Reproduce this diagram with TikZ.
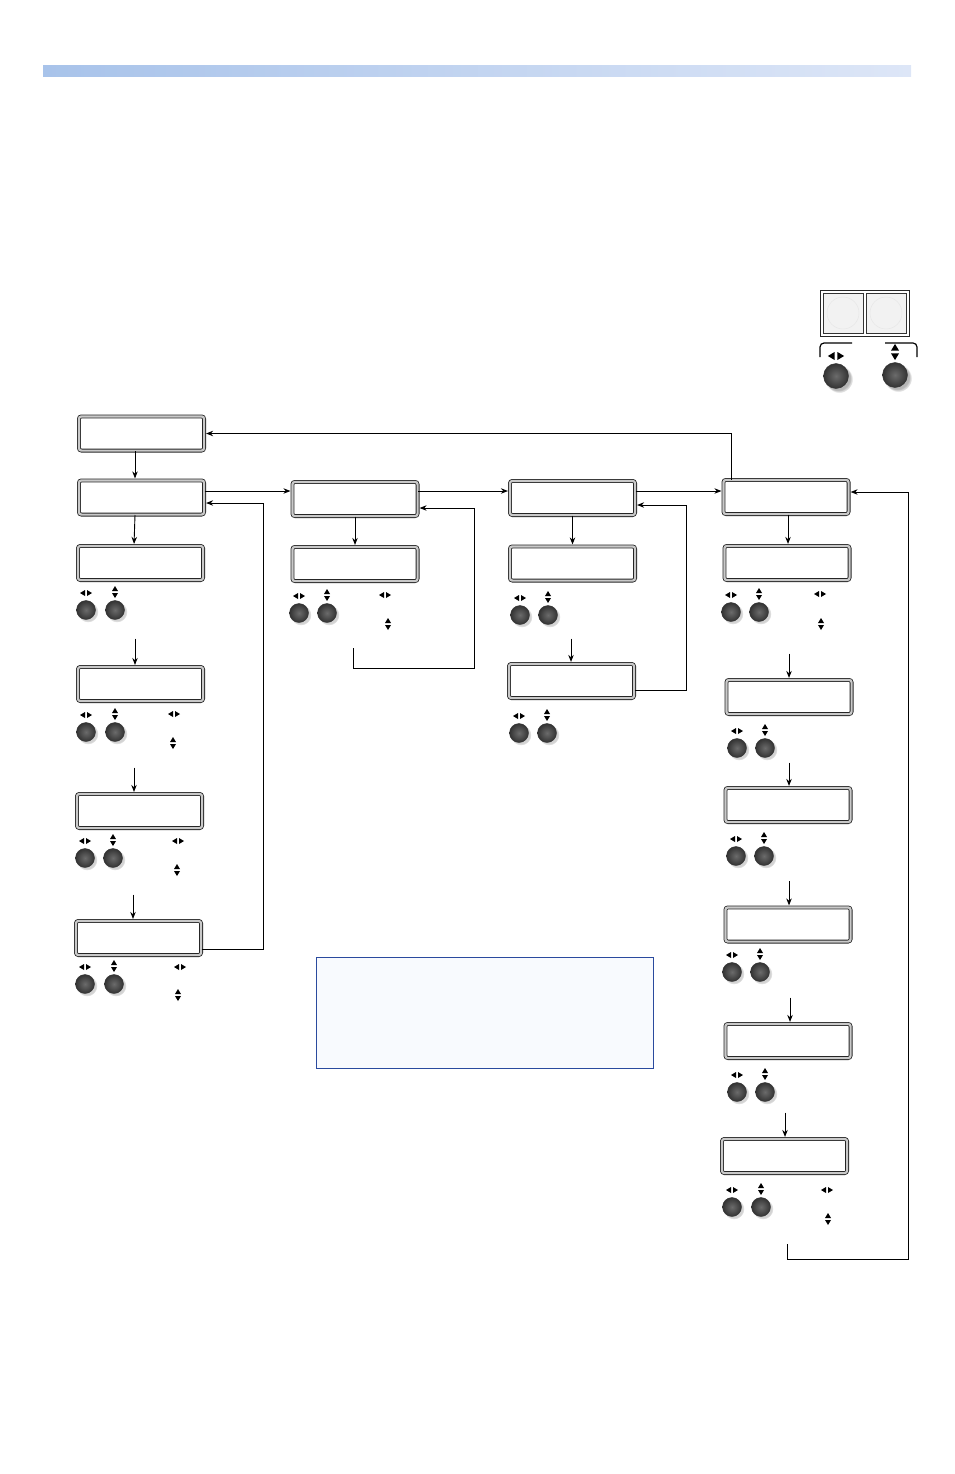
\documentclass[tikz,border=0pt]{standalone}
\usepackage{xcolor}
\usepackage{tikz}
\usetikzlibrary{arrows.meta, positioning, calc, shadows}
\definecolor{barleft}{HTML}{A8C3EA}
\definecolor{barmid}{HTML}{D6E0F4}
\definecolor{barright}{HTML}{DDE6F7}
\definecolor{noteline}{HTML}{2A4A9E}
\definecolor{notefill}{HTML}{F8FAFE}
\definecolor{lcdrim}{HTML}{C9C9C9}

\begin{document}
\begin{tikzpicture}[
      x=1pt, y=-1pt, >={Stealth[length=7pt, width=5.5pt]},
      lcd/.style={draw=black!85, line width=0.8pt, double=lcdrim, double distance=2.2pt, rounded corners=2.5pt, fill=white, minimum width=125.2pt, minimum height=34.2pt, inner sep=0pt},
      btn/.style={circle, draw=black!80, line width=0.4pt, inner color=black!58, outer color=black!80, minimum size=19pt, inner sep=0pt, circular drop shadow={shadow xshift=1.8pt, shadow yshift=-1.8pt, opacity=0.35}},
      bigbtn/.style={btn, minimum size=25pt, circular drop shadow={shadow xshift=3pt, shadow yshift=-3pt, opacity=0.35}},
      key/.style={draw=black!80, line width=0.6pt, fill=black!5, minimum size=40pt, inner sep=0pt},
      notebox/.style={draw=noteline, line width=1.8pt, fill=notefill, minimum width=337pt, minimum height=111pt, inner sep=0pt},
      link/.style={->, line width=0.9pt, shorten >=1.6pt},
      lrglyph/.pic={\fill (-6,0) -- (-1,-3) -- (-1,3) -- cycle; \fill (6,0) -- (1,-3) -- (1,3) -- cycle;},
      udglyph/.pic={\fill (0,-6) -- (-3,-1) -- (3,-1) -- cycle; \fill (0,6) -- (-3,1) -- (3,1) -- cycle;}]
    \useasboundingbox (0,0) rectangle (954,1474);
    % header bar
    \shade[left color=barleft, middle color=barmid, right color=barright] (43,66) rectangle (911,77);
    % front panel detail
    \node[draw=black!85, line width=0.7pt, minimum width=89pt, minimum height=46pt, inner sep=0pt] (panel) at (864.5,313) {};
    \node[key] (keyl) at (843,313) {};
    \node[key] (keyr) at (886,313) {};
    \draw[black!10] (keyl) circle (16);
    \draw[black!10] (keyr) circle (16);
    \draw[line width=1.2pt, rounded corners=4pt] (852,343) -- (820,343) -- (820,357);
    \draw[line width=1.2pt, rounded corners=4pt] (885,343) -- (917,343) -- (917,357);
    \pic[scale=1.35] at (836,356) {lrglyph};
    \pic[scale=1.35] at (895,352) {udglyph};
    \node[bigbtn] (knobl) at (836,376) {};
    \node[bigbtn] (knobr) at (895,375) {};
    % displays
    \node[lcd] (a0) at (141.5,433.5) {};
    \node[lcd] (a1) at (141.5,497.5) {};
    \node[lcd] (a2) at (140.5,563) {};
    \node[lcd] (a3) at (140.5,684) {};
    \node[lcd] (a4) at (139.5,811) {};
    \node[lcd] (a5) at (138.5,938) {};
    \node[lcd] (b1) at (355,499) {};
    \node[lcd] (b2) at (355,564) {};
    \node[lcd] (c1) at (572.5,498) {};
    \node[lcd] (c2) at (572.5,563.5) {};
    \node[lcd] (c3) at (571.5,681) {};
    \node[lcd] (d1) at (786,497) {};
    \node[lcd] (d2) at (787,563) {};
    \node[lcd] (d3) at (789,697) {};
    \node[lcd] (d4) at (788,805) {};
    \node[lcd] (d5) at (788,924.5) {};
    \node[lcd] (d6) at (788,1041) {};
    \node[lcd] (d7) at (784.5,1156) {};
    % knobs under the displays
    \foreach \n/\xa/\xb/\yy in {a2/86/115/610, a3/86/115/732, a4/85/113/858, a5/85/114/984,
        b2/299/327/613, c2/520/548/615, c3/519/547/733, d2/731/759/612, d3/737/765/748,
        d4/736/764/856, d5/732/760/972, d6/737/765/1092, d7/732/761/1207} {
      \node[btn] (btn-\n-a) at (\xa,\yy) {};
      \node[btn] (btn-\n-b) at (\xb,\yy) {};
      \pic at (\xa,\yy-17) {lrglyph};
      \pic at (\xb,\yy-18) {udglyph};
    }
    \foreach \xl/\yl/\xu/\yu in {174/714/173/743, 178/841/177/870, 180/967/178/995,
        385/595/388/624, 820/594/821/624, 827/1190/828/1219} {
      \pic at (\xl,\yl) {lrglyph};
      \pic at (\xu,\yu) {udglyph};
    }
    % note
    \node[notebox] (note) at (485,1013) {};
    % column a
    \draw[link] ([xshift=-6.5pt]a0.south) -- ([xshift=-6.5pt]a1.north);
    \draw[link] ([xshift=-6.5pt]a1.south) -- ([xshift=-6.5pt]a2.north);
    \draw[link] ($(a3.north)+(-5.5,-28)$) -- ([xshift=-5.5pt]a3.north);
    \draw[link] ($(a4.north)+(-5.5,-26)$) -- ([xshift=-5.5pt]a4.north);
    \draw[link] ($(a5.north)+(-5.5,-26)$) -- ([xshift=-5.5pt]a5.north);
    \draw[link] ([yshift=-11pt]a5.east) -- ++(62,0) |- ([yshift=-5.5pt]a1.east);
    \draw[link] ([yshift=6.5pt]a1.east) -- ([yshift=6.5pt]a1.east -| b1.west);
    % column b
    \draw[link] (b1.south) -- (b2.north);
    \coordinate (bback) at (353,648);
    \draw[link] (bback) -- ++(0,20) -- ++(121,0) |- ([yshift=-9pt]b1.east);
    \draw[link] ([yshift=8pt]b1.east) -- ([yshift=8pt]b1.east -| c1.west);
    % column c
    \draw[link] (c1.south) -- (c2.north);
    \draw[link] ($(c3.north)+(-0.5,-25)$) -- ([xshift=-0.5pt]c3.north);
    \draw[link] ([yshift=-9pt]c3.east) -- ++(52,0) |- ([yshift=-7pt]c1.east);
    \draw[link] ([yshift=7pt]c1.east) -- ([yshift=7pt]c1.east -| d1.west);
    % column d
    \draw[link] ([xshift=8.5pt]d1.north west) |- (a0.east);
    \draw[link] ([xshift=2pt]d1.south) -- ([xshift=2pt]d1.south |- d2.north);
    \draw[link] ($(d3.north)+(0,-26)$) -- (d3.north);
    \draw[link] ($(d4.north)+(1,-25)$) -- ([xshift=1pt]d4.north);
    \draw[link] ($(d5.north)+(1,-26)$) -- ([xshift=1pt]d5.north);
    \draw[link] ($(d6.north)+(2,-26)$) -- ([xshift=2pt]d6.north);
    \draw[link] ($(d7.north)+(0.5,-26)$) -- ([xshift=0.5pt]d7.north);
    \coordinate (dback) at (787,1244);
    \draw[link] (dback) -- ++(0,15) -- ++(121,0) |- ([yshift=5pt]d1.east);
  \end{tikzpicture}
\end{document}
